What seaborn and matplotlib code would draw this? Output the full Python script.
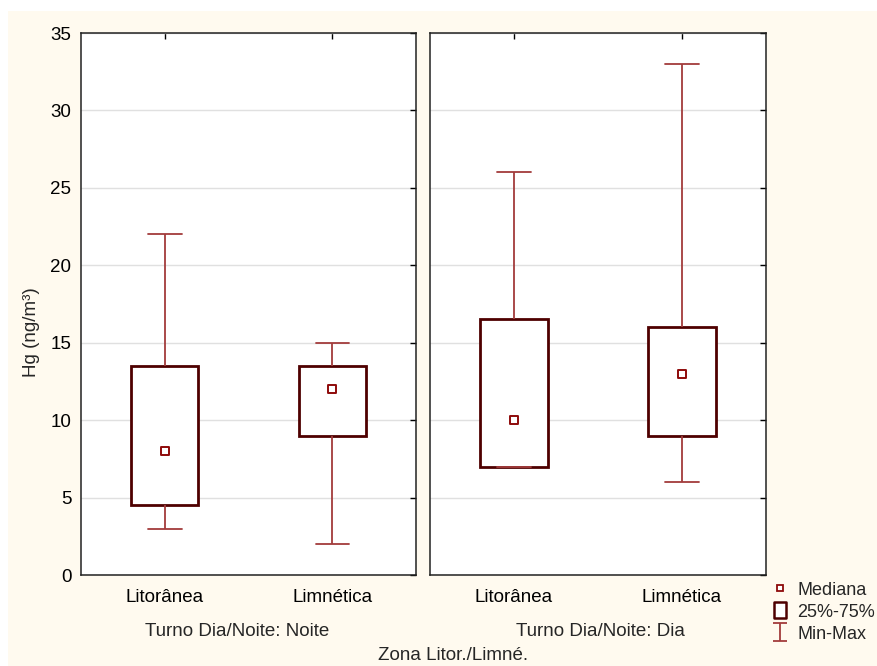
import matplotlib
matplotlib.use("Agg")
import numpy as np
import pandas as pd
import seaborn as sns
import matplotlib.pyplot as plt
from matplotlib.patches import Rectangle
from matplotlib.lines import Line2D
from matplotlib.path import Path

# Day/night shift panels and the two lake zones
turnos = ["Noite", "Dia"]
zonas = ["Litorânea", "Limnética"]

# Five-number summaries of Hg (ng/m³), ordered Noite-Lit, Noite-Lim, Dia-Lit, Dia-Lim
hg_min = [3.0, 2.0, 7.0, 6.0]
hg_q1 = [4.5, 9.0, 7.0, 9.0]
hg_med = [8.0, 12.0, 10.0, 13.0]
hg_q3 = [13.5, 13.5, 16.5, 16.0]
hg_max = [22.0, 15.0, 26.0, 33.0]

y_ticks = [0, 5, 10, 15, 20, 25, 30, 35]
legend_labels = ["Mediana", "25%-75%", "Min-Max"]

BOX_EDGE = "#4E0000"
WHISKER = "#A23C3C"
MEDIAN = "#8E0A0A"
CREAM = "#FFFAEF"
FS = 13.5

rows = []
i = 0
for t in turnos:
    for z in zonas:
        for v in (hg_min[i], hg_q1[i], hg_med[i], hg_q3[i], hg_max[i]):
            rows.append({"turno": t, "zona": z, "hg": v})
        i += 1
df = pd.DataFrame(rows)
med_df = pd.DataFrame({
    "turno": [t for t in turnos for _ in zonas],
    "zona": zonas * len(turnos),
    "hg": hg_med,
})

sns.set_style("white")
plt.rcParams["font.family"] = ["Liberation Sans", "DejaVu Sans"]
plt.rcParams["font.size"] = FS

fig = plt.figure(figsize=(8.78, 6.66), dpi=100)
fig.patch.set_facecolor("white")
fig.add_artist(Rectangle((8 / 878, 0), 1, 1 - 11 / 666, transform=fig.transFigure,
                         facecolor=CREAM, edgecolor="none", zorder=-10))

bottom = 1 - 575 / 666
height = (575 - 33) / 666
ax1 = fig.add_axes([81 / 878, bottom, 335 / 878, height])
ax2 = fig.add_axes([430 / 878, bottom, 336 / 878, height], sharey=ax1)

for ax, t in zip([ax1, ax2], turnos):
    sub = df[df["turno"] == t]
    sns.boxplot(data=sub, x="zona", y="hg", order=zonas, ax=ax,
                color="white", saturation=1, width=0.4, whis=(0, 100),
                linewidth=1.3, showfliers=False,
                boxprops=dict(edgecolor=BOX_EDGE, linewidth=2.0),
                whiskerprops=dict(color=WHISKER, linewidth=1.3),
                capprops=dict(color=WHISKER, linewidth=1.3),
                medianprops=dict(linewidth=0))
    sns.stripplot(data=med_df[med_df["turno"] == t], x="zona", y="hg", order=zonas,
                  ax=ax, jitter=False, marker="s", size=5.5, color="white",
                  edgecolor=MEDIAN, linewidth=1.4, zorder=5)
    ax.set_facecolor("white")
    ax.set_xlim(-0.5, 1.5)
    ax.set_ylim(0, 35)
    ax.set_yticks(y_ticks)
    ax.yaxis.grid(True, color="#E0E0E0", linewidth=1.0)
    ax.set_axisbelow(True)
    ax.tick_params(direction="in", length=4, width=1, top=True, right=True,
                   colors="black", labelsize=FS)
    ax.tick_params(axis="x", pad=10)
    ax.tick_params(axis="y", pad=7)
    for s in ax.spines.values():
        s.set_color("#222222")
        s.set_linewidth(1.1)
    ax.set_xlabel(f"Turno Dia/Noite: {t}", fontsize=FS, labelpad=16)
    ax.set_ylabel("")

ax1.xaxis.set_label_coords((237 - 81) / 335, -(632 - 575) / 542)
ax2.xaxis.set_label_coords((600 - 430) / 336, -(632 - 575) / 542)
for ax in (ax1, ax2):
    ax.xaxis.label.set_va("center")

ax1.set_ylabel("Hg (ng/m³)", fontsize=FS)
ax1.yaxis.set_label_coords((32 - 81) / 335, (575 - 332) / 542)
ax1.yaxis.label.set_va("center")
ax2.tick_params(axis="y", labelleft=False)

fig.text(453 / 878, 1 - 656 / 666, "Zona Litor./Limné.", ha="center", va="center",
         fontsize=FS)

# Legend symbols: median square, interquartile box, min-max bar
ibeam = Path([(-0.75, 1), (0.75, 1), (0, 1), (0, -1), (-0.75, -1), (0.75, -1)],
             [Path.MOVETO, Path.LINETO, Path.MOVETO, Path.LINETO, Path.MOVETO, Path.LINETO])
tall_box = Path([(-0.75, -1), (0.75, -1), (0.75, 1), (-0.75, 1), (-0.75, -1)],
                [Path.MOVETO, Path.LINETO, Path.LINETO, Path.LINETO, Path.CLOSEPOLY])
handles = [
    Line2D([], [], ls="", marker="s", markersize=5, markerfacecolor="white",
           markeredgecolor=MEDIAN, markeredgewidth=1.3),
    Line2D([], [], ls="", marker=tall_box, markersize=12, markerfacecolor="white",
           markeredgecolor=BOX_EDGE, markeredgewidth=1.8),
    Line2D([], [], ls="", marker=ibeam, markersize=13, color=WHISKER,
           markeredgewidth=1.3),
]
fig.legend(handles, legend_labels, loc="upper left",
           bbox_to_anchor=(757 / 878, 1 - 569 / 666), frameon=False,
           handlelength=1.2, handletextpad=0.35, labelspacing=0.28,
           fontsize=13, borderpad=0.2)

fig.savefig("out.png", dpi=100)
